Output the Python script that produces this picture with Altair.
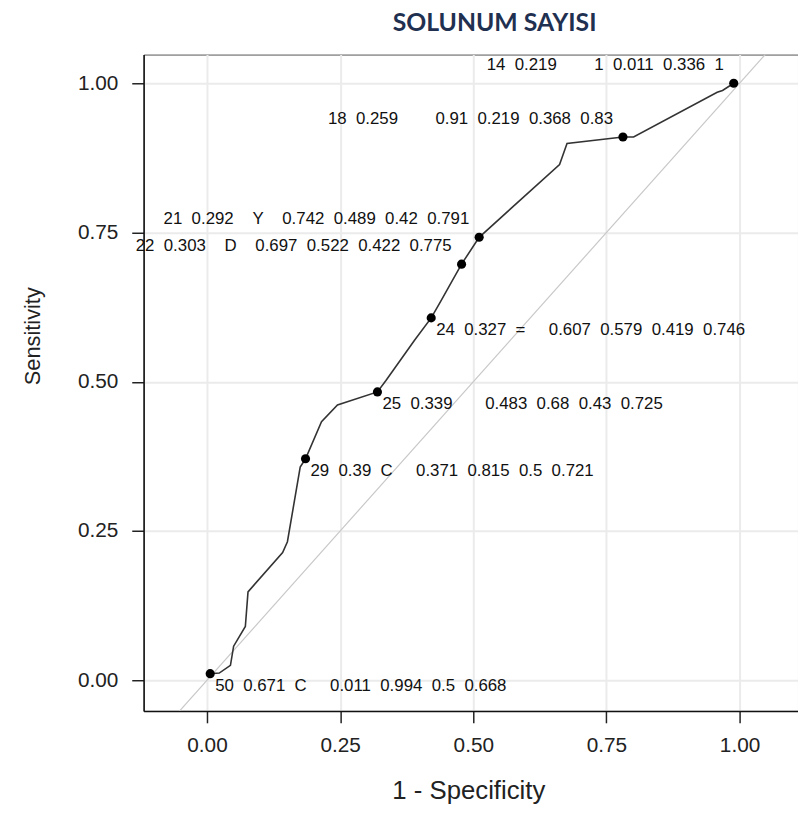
import altair as alt
import pandas as pd

# ROC curve vertices (1 - specificity, sensitivity)
curve_fpr = [0.006, 0.023, 0.044, 0.050, 0.072, 0.077, 0.142, 0.151, 0.175, 0.185,
             0.215, 0.245, 0.320, 0.336, 0.390, 0.421, 0.439, 0.478, 0.511, 0.662,
             0.676, 0.781, 0.801, 0.958, 0.968, 0.989]
curve_tpr = [0.011, 0.012, 0.025, 0.057, 0.090, 0.148, 0.214, 0.232, 0.357, 0.371,
             0.433, 0.461, 0.483, 0.502, 0.570, 0.607, 0.635, 0.697, 0.742, 0.864,
             0.899, 0.910, 0.910, 0.985, 0.988, 1.000]

# Labelled cut points
cut = [50, 29, 25, 24, 22, 21, 18, 14]
prob = [0.671, 0.39, 0.339, 0.327, 0.303, 0.292, 0.259, 0.219]
cls = ["C", "C", "", "=", "D", "Y", "", ""]
sens = [0.011, 0.371, 0.483, 0.607, 0.697, 0.742, 0.91, 1]
spec = [0.994, 0.815, 0.68, 0.579, 0.522, 0.489, 0.219, 0.011]
lo = [0.5, 0.5, 0.43, 0.419, 0.422, 0.42, 0.368, 0.336]
hi = [0.668, 0.721, 0.725, 0.746, 0.775, 0.791, 0.83, 1]

ticks = [0, 0.25, 0.5, 0.75, 1]
x_domain = [-0.119, 1.1097]
y_domain = [-0.0514, 1.0481]

NB = "\u00a0"


def wide(s):
    return s.replace(" ", NB * 2)


def make_label(c, p, k, se, sp, l, h, right):
    head = wide(f"{c} {p:g}")
    vals = wide(f"{se:g} {sp:g} {l:g} {h:g}")
    if right:
        return head + NB * 2 + k + NB * 5 + vals
    return head + NB * 4 + k + NB * 4 + vals


pts = pd.DataFrame({
    "cut": cut,
    "fpr": [round(1 - s, 3) for s in spec],
    "tpr": sens,
    "label": [make_label(c, p, k, se, sp, l, h, c >= 24)
              for c, p, k, se, sp, l, h in zip(cut, prob, cls, sens, spec, lo, hi)],
})
curve = pd.DataFrame({"fpr": curve_fpr, "tpr": curve_tpr, "i": range(len(curve_fpr))})
diag = pd.DataFrame({"fpr": [x_domain[0], x_domain[1]], "tpr": [x_domain[0], x_domain[1]]})

FONT = "Liberation Sans, Arial, sans-serif"

xs = alt.Scale(domain=x_domain, nice=False, zero=False)
ys = alt.Scale(domain=y_domain, nice=False, zero=False)

x_axis = alt.Axis(values=ticks, format=".2f", title="1 - Specificity",
                  tickSize=12, labelPadding=12, labelFontSize=21, labelFont=FONT,
                  labelColor="#222", titleFont=FONT, titleFontSize=26,
                  titleFontWeight="normal", titleColor="#222",
                  titleX=328, titleY=80, titleBaseline="middle",
                  domainColor="#111", domainWidth=1.5, tickColor="#222", tickWidth=1.5,
                  gridColor="#ebebeb", gridWidth=2)
y_axis = alt.Axis(values=ticks, format=".2f", title="Sensitivity",
                  tickSize=12, labelPadding=14, labelFontSize=21, labelFont=FONT,
                  labelColor="#222", titleFont=FONT, titleFontSize=22,
                  titleFontWeight="normal", titleColor="#222",
                  titleX=-112, titleY=284, titleAngle=-90, titleBaseline="middle",
                  titleAlign="center",
                  domainColor="#111", domainWidth=1.5, tickColor="#222", tickWidth=1.5,
                  gridColor="#ebebeb", gridWidth=2)

base_x = alt.X("fpr:Q", scale=xs, axis=x_axis)
base_y = alt.Y("tpr:Q", scale=ys, axis=y_axis)

diag_line = alt.Chart(diag).mark_line(color="#c8c8c8", strokeWidth=1.2, clip=True).encode(
    x=base_x, y=base_y)

roc = alt.Chart(curve).mark_line(color="#333333", strokeWidth=1.6).encode(
    x="fpr:Q", y="tpr:Q", order="i:Q")

dots = alt.Chart(pts).mark_circle(size=85, color="#000000", opacity=1).encode(
    x="fpr:Q", y="tpr:Q")

labels_right = alt.Chart(pts).transform_filter("datum.cut >= 24").mark_text(
    align="left", baseline="middle", dx=5, dy=12, font=FONT, fontSize=17, color="#111"
).encode(x="fpr:Q", y="tpr:Q", text="label:N")

labels_left = alt.Chart(pts).transform_filter("datum.cut < 24").mark_text(
    align="right", baseline="middle", dx=-10, dy=-18, font=FONT, fontSize=17, color="#111"
).encode(x="fpr:Q", y="tpr:Q", text="label:N")

chart = alt.layer(diag_line, roc, dots, labels_right, labels_left).properties(
    width=661,
    height=663,
    autosize=alt.AutoSizeParams(type="none"),
    padding={"left": 137, "top": 43, "right": 0, "bottom": 92},
    title=alt.TitleParams("SOLUNUM SAYISI", font="Lato", fontSize=25, fontWeight="bold",
                          color="#1f3050", anchor="middle", frame="group", dx=24, offset=19),
).configure_view(stroke="#555555", strokeWidth=1)

chart.save("out.html", embed_options={"renderer": "svg", "actions": False})
